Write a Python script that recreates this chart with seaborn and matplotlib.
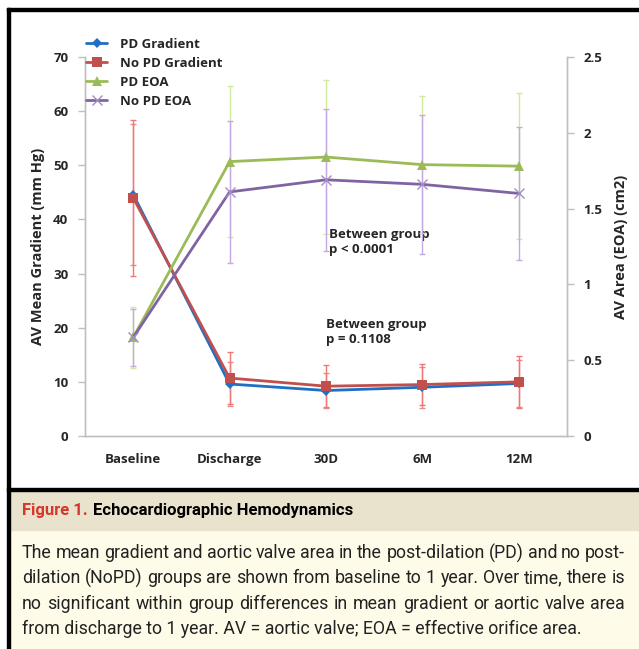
import numpy as np
import pandas as pd
import matplotlib
matplotlib.use("Agg")
import matplotlib.pyplot as plt
from matplotlib.patches import Rectangle
import seaborn as sns

# values
categories = ["Baseline", "Discharge", "30D", "6M", "12M"]
pd_gradient = [44.6, 9.6, 8.4, 9.0, 9.7]
pd_gradient_sd = [13.0, 4.1, 3.3, 3.8, 4.3]
nopd_gradient = [44.0, 10.7, 9.2, 9.5, 10.0]
nopd_gradient_sd = [14.4, 4.8, 3.9, 3.8, 4.8]
pd_eoa = [0.65, 1.81, 1.84, 1.79, 1.78]
pd_eoa_sd = [0.20, 0.50, 0.51, 0.45, 0.48]
nopd_eoa = [0.65, 1.61, 1.69, 1.66, 1.60]
nopd_eoa_sd = [0.19, 0.47, 0.47, 0.46, 0.44]

left_ticks = [0, 10, 20, 30, 40, 50, 60, 70]
right_ticks = [0, 0.5, 1, 1.5, 2, 2.5]
right_tick_labels = ["0", "0.5", "1", "1.5", "2", "2.5"]

caption_title = "Echocardiographic Hemodynamics"
caption_lines = [
    "The mean gradient and aortic valve area in the post-dilation (PD) and no post-",
    "dilation (NoPD) groups are shown from baseline to 1 year. Over time, there is",
    "no significant within group differences in mean gradient or aortic valve area",
    "from discharge to 1 year. AV = aortic valve; EOA = effective orifice area.",
]

W, H = 639, 649
BLUE, RED, GREEN, PURPLE = "#1f6fc5", "#c0504d", "#9bbb59", "#8064a2"
AXIS_GREY = "#bfbfbf"

sns.set_style("white")
plt.rcParams["font.family"] = ["Open Sans", "DejaVu Sans"]
plt.rcParams["font.weight"] = "bold"
plt.rcParams["axes.labelweight"] = "bold"

x = np.arange(len(categories))
df = pd.DataFrame({
    "x": x,
    "pd_gradient": pd_gradient, "nopd_gradient": nopd_gradient,
    "pd_eoa": pd_eoa, "nopd_eoa": nopd_eoa,
})

fig = plt.figure(figsize=(W / 100, H / 100), dpi=100, facecolor="white")


def fy(px):
    return 1 - px / H


# caption panel backgrounds and frame
fig.patches.append(Rectangle((9 / W, fy(H)), 1, (H - 530) / H, transform=fig.transFigure,
                             color="#fefbe9", zorder=0))
fig.patches.append(Rectangle((9 / W, fy(530)), 1, 40 / H, transform=fig.transFigure,
                             color="#e9e2cc", zorder=0))
fig.patches.append(Rectangle((7 / W, fy(491)), 1, 3 / H, transform=fig.transFigure,
                             color="black", zorder=1))
fig.patches.append(Rectangle((7 / W, fy(11)), 1, 3 / H, transform=fig.transFigure,
                             color="black", zorder=1))
fig.patches.append(Rectangle((7 / W, 0), 3 / W, fy(8), transform=fig.transFigure,
                             color="black", zorder=1))

ax = fig.add_axes([85 / W, fy(436), (567 - 85) / W, (436 - 57) / H])
ax2 = ax.twinx()

# gradient series (left axis)
ax.errorbar(x, pd_gradient, yerr=pd_gradient_sd, fmt="none", ecolor="#f08a8a",
            elinewidth=1, capsize=2.5, capthick=1, zorder=2)
ax.errorbar(x, nopd_gradient, yerr=nopd_gradient_sd, fmt="none", ecolor="#ee7777",
            elinewidth=1, capsize=2.5, capthick=1, zorder=2)
sns.lineplot(data=df, x="x", y="pd_gradient", ax=ax, color=BLUE, lw=2,
             marker="D", markersize=5, markeredgewidth=0, label="PD Gradient", zorder=3)
sns.lineplot(data=df, x="x", y="nopd_gradient", ax=ax, color=RED, lw=2,
             marker="s", markersize=7, markeredgewidth=0, label="No PD Gradient", zorder=3)

# EOA series (right axis)
ax2.errorbar(x, pd_eoa, yerr=pd_eoa_sd, fmt="none", ecolor="#cdeb9a",
             elinewidth=1, capsize=2.5, capthick=1, zorder=2)
ax2.errorbar(x, nopd_eoa, yerr=nopd_eoa_sd, fmt="none", ecolor="#c6a8e2",
             elinewidth=1, capsize=2.5, capthick=1, zorder=2)
sns.lineplot(data=df, x="x", y="pd_eoa", ax=ax2, color=GREEN, lw=2,
             marker="^", markersize=7, markeredgewidth=0, label="PD EOA", zorder=3)
sns.lineplot(data=df, x="x", y="nopd_eoa", ax=ax2, color=PURPLE, lw=2,
             marker="x", markersize=7, markeredgewidth=1, markeredgecolor="#a48cc4",
             label="No PD EOA", zorder=3)

h1, l1 = ax.get_legend_handles_labels()
h2, l2 = ax2.get_legend_handles_labels()
ax.get_legend().remove()
ax2.get_legend().remove()
fig.legend(h1 + h2, l1 + l2, loc="upper left", bbox_to_anchor=(86 / W, fy(38)),
           frameon=False, fontsize=9.5, handlelength=1.6, handletextpad=1.0,
           labelspacing=0.45, borderaxespad=0, borderpad=0,
           prop={"weight": "bold", "size": 9.5})

# axes styling
ax.set_xlim(-0.5, len(categories) - 0.5)
ax.set_ylim(0, 70)
ax2.set_ylim(0, 2.5)
ax.set_yticks(left_ticks)
ax2.set_yticks(right_ticks)
ax2.set_yticklabels(right_tick_labels)
ax.set_xticks(x)
ax.set_xticklabels(categories)
ax.set_xticks(np.arange(len(categories) + 1) - 0.5, minor=True)
ax.tick_params(axis="x", which="major", length=0, pad=12, labelsize=9.5)
ax.tick_params(axis="x", which="minor", length=5, width=1, color=AXIS_GREY, direction="out")
ax.tick_params(axis="y", length=5, width=1, color=AXIS_GREY, direction="out",
               pad=7, labelsize=9.5, left=True)
ax2.tick_params(axis="y", length=5, width=1, color=AXIS_GREY, direction="out",
                pad=7, labelsize=9.5, right=True)
for lab in ax.get_xticklabels() + ax.get_yticklabels() + ax2.get_yticklabels():
    lab.set_fontweight("bold")
for a in (ax, ax2):
    for side in ("left", "right", "bottom"):
        a.spines[side].set_color(AXIS_GREY)
        a.spines[side].set_linewidth(1)
    a.spines["top"].set_visible(False)
ax.set_xlabel("")
ax.set_ylabel("AV Mean Gradient (mm Hg)", fontsize=10.5, labelpad=6, fontweight="bold")
ax2.set_ylabel("AV Area (EOA) (cm2)", fontsize=10.5, labelpad=8, fontweight="bold")

ax.text(2.03, 38.4, "Between group\np < 0.0001", fontsize=9.5, va="top", ha="left",
        linespacing=1.2, fontweight="bold")
ax.text(2.0, 21.8, "Between group\np = 0.1108", fontsize=9.5, va="top", ha="left",
        linespacing=1.2, fontweight="bold")

# caption
cap_font = ["Roboto", "DejaVu Sans"]
t = fig.text(22 / W, fy(511), "Figure 1.", color="#d7372a", fontsize=12,
             fontweight="bold", family=cap_font, va="center", ha="left")
fig.canvas.draw()
renderer = fig.canvas.get_renderer()
bb = t.get_window_extent(renderer)
fig.text((bb.x1 + 5) / W, fy(511), caption_title, color="black", fontsize=12,
         fontweight="bold", family=cap_font, va="center", ha="left")

# justified body text: every line but the last stretches to the right margin
left_px, right_px = 22, 625
for i, line in enumerate(caption_lines):
    ypos = fy(553 + 25.3 * i)
    words = line.split(" ")
    if i == len(caption_lines) - 1:
        fig.text(left_px / W, ypos, line, color="#222222", fontsize=12.8,
                 fontweight="normal", family=cap_font, va="center", ha="left")
        continue
    items = [fig.text(0, ypos, w, color="#222222", fontsize=12.8, fontweight="normal",
                      family=cap_font, va="center", ha="left") for w in words]
    widths = [it.get_window_extent(renderer).width for it in items]
    gap = (right_px - left_px - sum(widths)) / (len(words) - 1)
    xpos = left_px
    for it, wdt in zip(items, widths):
        it.set_x(xpos / W)
        xpos += wdt + gap

fig.savefig("out.png", dpi=100, facecolor="white")
